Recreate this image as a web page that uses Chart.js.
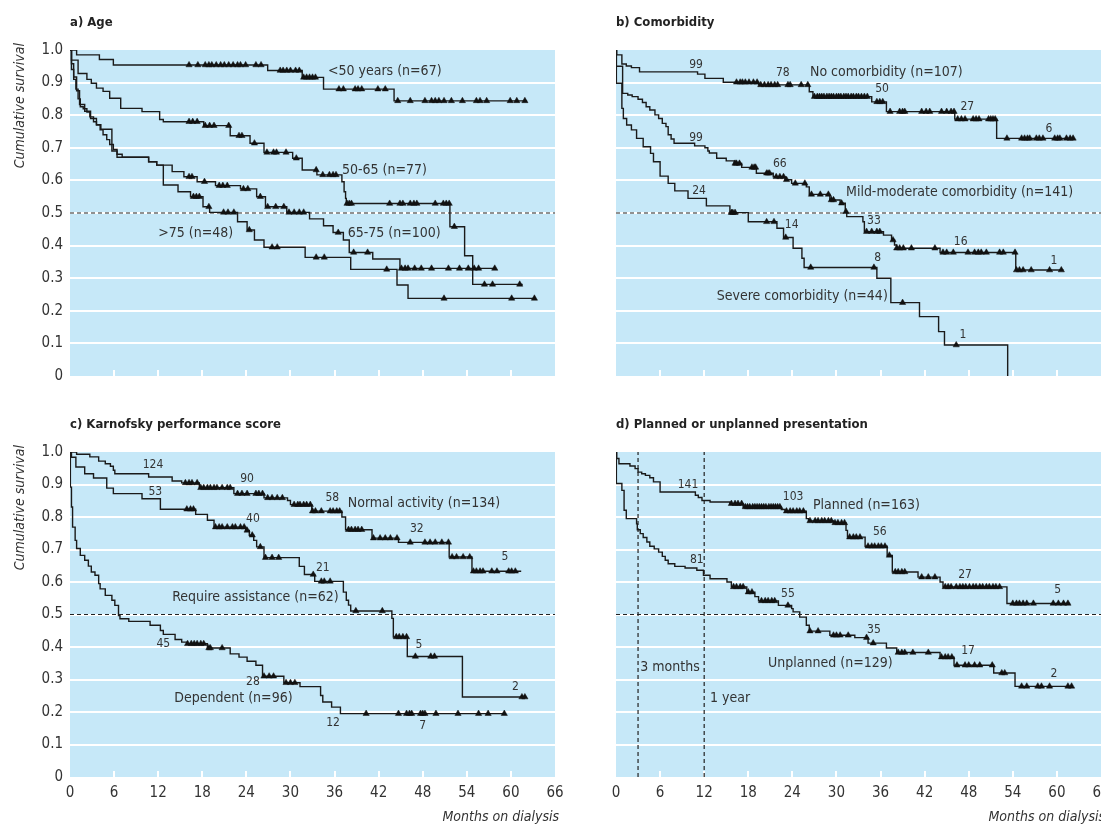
<!DOCTYPE html>
<html>
<head>
<meta charset="utf-8">
<script src="https://cdn.jsdelivr.net/npm/chart.js@4.4.1/dist/chart.umd.min.js"></script>
<style>
  html, body { margin: 0; padding: 0; background: #fff; width: 1101px; height: 825px; overflow: hidden; }
  .panel { position: absolute; }
  canvas { display: block; }
</style>
</head>
<body>
<div class="panel" style="left:0;top:0"><canvas id="pa" width="565" height="400"></canvas></div>
<div class="panel" style="left:546px;top:0"><canvas id="pb" width="565" height="400"></canvas></div>
<div class="panel" style="left:0;top:402px"><canvas id="pc" width="565" height="423"></canvas></div>
<div class="panel" style="left:546px;top:402px"><canvas id="pd" width="565" height="423"></canvas></div>
<script>
// Axis ticks
const monthTicks = [0, 6, 12, 18, 24, 30, 36, 42, 48, 54, 60, 66];
const survivalTicks = [0, 0.1, 0.2, 0.3, 0.4, 0.5, 0.6, 0.7, 0.8, 0.9, 1.0];
const medianLine = 0.5;
const presentationMarkers = [3, 12];

// a) Age — step curves (months, cumulative survival) and censored times
const ageLt50Months = [0, 0.9, 4.0, 5.9, 26.9, 31.6, 34.5, 44.1, 62.2];
const ageLt50Surv = [1, 0.985, 0.971, 0.954, 0.937, 0.916, 0.880, 0.844, 0.844];
const ageLt50Censored = [16.2, 17.4, 18.4, 18.9, 19.3, 19.9, 20.5, 21.0, 21.6, 22.2, 22.8, 23.2, 23.9, 25.3, 26.0, 28.6, 29.0, 29.5, 30.0, 30.7, 31.2, 31.8, 32.2, 32.6, 33.0, 33.4, 36.6, 37.2, 38.8, 39.2, 39.7, 41.9, 42.9, 44.6, 46.3, 48.3, 49.2, 49.7, 50.2, 50.9, 51.9, 53.4, 55.3, 55.8, 56.7, 59.9, 60.8, 61.9];

const age5065Months = [0, 0.2, 1.1, 2.3, 2.9, 3.6, 4.5, 5.4, 6.9, 9.8, 12.2, 12.7, 18.2, 21.8, 24.5, 26.4, 30.3, 31.6, 33.6, 37.0, 37.3, 37.5, 37.6, 51.7, 53.7, 54.8, 61.6];
const age5065Surv = [1, 0.969, 0.928, 0.910, 0.898, 0.883, 0.873, 0.852, 0.821, 0.811, 0.787, 0.780, 0.768, 0.737, 0.714, 0.686, 0.668, 0.632, 0.617, 0.596, 0.565, 0.545, 0.529, 0.458, 0.369, 0.281, 0.281];
const age5065Censored = [16.2, 16.7, 17.3, 18.4, 19.0, 19.6, 21.6, 23.0, 23.4, 25.1, 26.8, 27.7, 28.1, 29.4, 30.8, 33.5, 34.4, 35.3, 35.8, 36.2, 37.7, 38.0, 38.3, 43.5, 44.9, 45.3, 46.3, 46.8, 47.2, 49.7, 50.8, 51.2, 51.6, 52.3, 56.4, 57.5, 61.2];

const age6575Months = [0, 0.2, 0.5, 0.8, 1.1, 1.4, 1.8, 2.3, 2.7, 3.2, 3.6, 4.1, 4.5, 5.0, 5.4, 5.9, 6.4, 7.1, 10.7, 11.8, 13.9, 15.5, 17.3, 19.8, 23.2, 25.4, 26.6, 29.5, 32.6, 34.5, 35.8, 37.2, 38.0, 41.2, 44.9, 58.0];
const age6575Surv = [1, 0.94, 0.91, 0.88, 0.85, 0.826, 0.82, 0.81, 0.795, 0.78, 0.77, 0.755, 0.74, 0.725, 0.71, 0.695, 0.68, 0.671, 0.657, 0.647, 0.627, 0.611, 0.596, 0.584, 0.574, 0.55, 0.519, 0.502, 0.482, 0.461, 0.44, 0.417, 0.379, 0.359, 0.33, 0.33];
const age6575Censored = [16.2, 16.6, 18.3, 20.3, 20.8, 21.4, 23.6, 24.2, 25.9, 26.9, 28.0, 29.1, 29.8, 30.5, 31.2, 31.8, 36.5, 38.6, 40.5, 45.1, 45.6, 46.0, 46.9, 47.8, 49.2, 51.5, 53.0, 54.2, 55.0, 55.6, 57.8];

const ageGt75Months = [0, 0.2, 0.5, 0.9, 1.3, 2.0, 2.8, 3.6, 4.2, 5.7, 6.4, 10.7, 11.8, 12.7, 14.7, 16.4, 18.1, 19.0, 22.8, 24.1, 25.1, 26.4, 32.0, 38.2, 44.5, 46.0, 63.4];
const ageGt75Surv = [1, 0.958, 0.917, 0.875, 0.833, 0.812, 0.79, 0.771, 0.757, 0.69, 0.671, 0.657, 0.647, 0.586, 0.565, 0.55, 0.519, 0.502, 0.473, 0.448, 0.417, 0.395, 0.364, 0.327, 0.279, 0.238, 0.238];
const ageGt75Censored = [16.8, 17.2, 17.6, 18.9, 20.9, 21.5, 22.3, 24.4, 27.5, 28.2, 33.5, 34.6, 43.1, 50.9, 60.1, 63.2];

// b) Comorbidity
const noComorbMonths = [0, 0.1, 0.8, 1.4, 2.1, 3.2, 11.1, 12.1, 14.6, 19.4, 26.3, 26.8, 34.8, 36.8, 46.1, 51.8, 62.2];
const noComorbSurv = [1, 0.985, 0.957, 0.951, 0.946, 0.933, 0.926, 0.913, 0.901, 0.893, 0.872, 0.857, 0.841, 0.811, 0.788, 0.729, 0.729];
const noComorbCensored = [16.4, 16.9, 17.2, 17.6, 18.1, 18.7, 19.2, 19.7, 20.2, 20.7, 21.1, 21.6, 22.0, 23.4, 23.7, 25.2, 26.1, 27.0, 27.4, 27.7, 28.0, 28.3, 28.7, 29.0, 29.3, 29.6, 30.0, 30.3, 30.6, 31.0, 31.3, 31.6, 32.0, 32.3, 32.7, 33.0, 33.4, 33.8, 34.2, 35.5, 35.9, 36.3, 37.3, 38.6, 39.0, 39.3, 41.6, 42.2, 42.7, 44.3, 45.0, 45.6, 46.0, 46.5, 47.0, 47.5, 48.6, 49.0, 49.4, 50.7, 51.0, 51.3, 51.6, 53.2, 55.2, 55.6, 56.0, 56.3, 57.2, 57.6, 58.1, 59.7, 60.1, 60.4, 61.3, 61.8, 62.2];

const mildComorbMonths = [0, 0.05, 0.9, 1.6, 2.2, 3.0, 3.6, 4.1, 4.6, 5.3, 5.8, 6.3, 6.8, 7.1, 7.5, 7.9, 10.7, 12.1, 12.5, 12.7, 13.7, 15.0, 16.1, 17.1, 19.1, 21.4, 23.0, 23.9, 25.9, 26.3, 29.1, 30.5, 31.2, 31.4, 33.6, 33.8, 36.4, 37.5, 37.9, 38.2, 44.1, 54.4, 60.9];
const mildComorbSurv = [1, 0.95, 0.867, 0.862, 0.857, 0.849, 0.839, 0.826, 0.816, 0.801, 0.79, 0.775, 0.765, 0.74, 0.727, 0.714, 0.706, 0.70, 0.69, 0.684, 0.668, 0.660, 0.652, 0.640, 0.622, 0.611, 0.602, 0.591, 0.580, 0.557, 0.540, 0.530, 0.504, 0.489, 0.473, 0.443, 0.432, 0.417, 0.402, 0.392, 0.379, 0.325, 0.325];
const mildComorbCensored = [16.2, 16.4, 16.8, 18.5, 18.8, 19.0, 20.5, 20.7, 20.9, 21.8, 22.3, 22.8, 23.2, 24.4, 25.7, 26.6, 27.8, 28.9, 29.3, 29.6, 30.7, 31.3, 34.1, 34.8, 35.5, 35.9, 37.7, 38.2, 38.6, 39.1, 40.2, 43.4, 44.5, 45.0, 45.9, 47.9, 48.8, 49.3, 49.7, 50.4, 52.2, 52.7, 54.3, 54.5, 54.9, 55.4, 56.5, 59.0, 60.6];

const severeComorbMonths = [0, 0.05, 0.8, 1.0, 1.45, 2.1, 2.8, 3.7, 4.7, 5.1, 6.0, 7.1, 8.0, 9.8, 12.3, 15.5, 18.0, 21.9, 22.8, 24.1, 25.3, 25.6, 35.5, 37.4, 41.3, 43.9, 44.7, 53.3];
const severeComorbSurv = [1, 0.898, 0.821, 0.790, 0.770, 0.755, 0.729, 0.703, 0.683, 0.657, 0.613, 0.591, 0.568, 0.545, 0.522, 0.501, 0.473, 0.453, 0.425, 0.392, 0.361, 0.333, 0.300, 0.225, 0.182, 0.136, 0.095, 0];
const severeComorbCensored = [15.7, 15.9, 16.2, 20.5, 21.5, 23.1, 26.5, 35.1, 39.0, 46.3];

// c) Karnofsky performance score
const normalActMonths = [0, 0.9, 2.7, 3.9, 4.8, 5.5, 5.9, 6.1, 10.7, 13.9, 15.2, 17.6, 22.3, 26.4, 29.6, 30.0, 32.9, 37.0, 37.5, 41.1, 44.7, 51.6, 54.7, 61.4];
const normalActSurv = [1, 0.993, 0.985, 0.972, 0.964, 0.956, 0.944, 0.933, 0.923, 0.911, 0.905, 0.890, 0.872, 0.859, 0.851, 0.838, 0.818, 0.800, 0.761, 0.735, 0.722, 0.677, 0.633, 0.633];
const normalActCensored = [15.7, 16.2, 16.6, 17.3, 17.8, 18.2, 18.7, 19.1, 19.6, 20.0, 20.7, 21.4, 21.8, 22.8, 23.4, 24.1, 25.3, 25.7, 26.2, 26.9, 27.5, 28.2, 28.9, 30.5, 31.0, 31.3, 31.8, 32.2, 32.7, 33.0, 33.4, 34.2, 35.4, 35.8, 36.3, 36.7, 37.9, 38.3, 38.8, 39.2, 39.7, 41.3, 42.2, 42.9, 43.6, 44.5, 46.3, 48.3, 49.0, 49.7, 50.6, 51.5, 52.0, 52.6, 53.5, 54.4, 54.9, 55.3, 55.8, 56.2, 57.4, 58.1, 59.7, 60.1, 60.6];

const reqAssistMonths = [0, 0.2, 0.8, 2.0, 3.2, 5.0, 5.9, 9.8, 12.3, 17.1, 18.7, 19.6, 23.9, 24.4, 25.0, 25.4, 26.4, 31.2, 31.9, 33.3, 37.2, 37.6, 37.9, 38.2, 43.8, 44.0, 45.9, 53.4, 62.1];
const reqAssistSurv = [1, 0.984, 0.954, 0.933, 0.920, 0.889, 0.872, 0.856, 0.824, 0.808, 0.790, 0.769, 0.759, 0.744, 0.728, 0.708, 0.675, 0.648, 0.623, 0.602, 0.569, 0.544, 0.529, 0.511, 0.488, 0.431, 0.371, 0.246, 0.246];
const reqAssistCensored = [15.9, 16.4, 16.8, 19.8, 20.3, 20.7, 21.4, 22.1, 22.5, 23.2, 23.7, 24.1, 24.8, 25.9, 26.6, 27.5, 28.4, 33.1, 34.2, 34.6, 35.4, 38.9, 42.5, 44.4, 44.8, 45.3, 45.8, 47.0, 49.1, 49.6, 61.5, 61.9];

const dependentMonths = [0, 0.05, 0.2, 0.35, 0.7, 0.9, 1.4, 2.0, 2.5, 2.9, 3.4, 3.9, 4.1, 4.8, 5.7, 6.1, 6.6, 6.8, 8.0, 10.9, 12.3, 12.7, 14.3, 15.2, 15.9, 18.7, 21.8, 23.0, 24.1, 25.3, 26.2, 29.1, 31.3, 34.1, 34.4, 35.6, 36.8, 59.1];
const dependentSurv = [1, 0.892, 0.831, 0.769, 0.728, 0.703, 0.682, 0.667, 0.649, 0.631, 0.621, 0.595, 0.579, 0.559, 0.544, 0.528, 0.497, 0.487, 0.479, 0.467, 0.451, 0.439, 0.423, 0.415, 0.410, 0.397, 0.379, 0.369, 0.356, 0.344, 0.310, 0.290, 0.278, 0.251, 0.231, 0.215, 0.195, 0.195];
const dependentCensored = [16.0, 16.5, 16.9, 17.3, 17.8, 18.2, 18.9, 19.1, 20.7, 26.4, 27.1, 27.7, 29.4, 30.0, 30.6, 40.3, 44.7, 45.8, 46.2, 46.5, 47.7, 48.0, 48.3, 49.8, 52.8, 55.6, 56.9, 59.1];

// d) Planned or unplanned presentation
const plannedMonths = [0, 0.1, 0.4, 1.9, 2.6, 3.0, 3.5, 4.0, 4.6, 5.1, 6.0, 10.8, 11.2, 11.7, 12.8, 15.5, 17.3, 22.5, 23.0, 25.9, 26.2, 29.6, 31.3, 31.5, 33.9, 36.9, 37.6, 41.1, 44.1, 44.5, 53.2, 61.8];
const plannedSurv = [1, 0.980, 0.964, 0.957, 0.949, 0.938, 0.933, 0.928, 0.921, 0.908, 0.877, 0.867, 0.860, 0.851, 0.846, 0.841, 0.831, 0.823, 0.818, 0.795, 0.788, 0.782, 0.759, 0.738, 0.710, 0.682, 0.631, 0.615, 0.600, 0.585, 0.534, 0.534];
const plannedCensored = [15.7, 16.2, 16.6, 17.1, 17.6, 17.9, 18.2, 18.6, 18.9, 19.2, 19.5, 19.8, 20.1, 20.4, 20.8, 21.1, 21.4, 21.7, 22.0, 22.3, 23.2, 23.7, 24.1, 24.6, 25.0, 25.5, 26.4, 27.1, 27.5, 28.0, 28.4, 28.9, 29.3, 29.8, 30.2, 30.7, 31.1, 31.8, 32.3, 32.7, 33.2, 34.3, 34.8, 35.2, 35.7, 36.1, 36.6, 37.2, 38.0, 38.4, 38.9, 39.3, 41.6, 42.5, 43.4, 44.8, 45.2, 45.6, 46.3, 46.8, 47.2, 47.6, 48.1, 48.6, 49.0, 49.5, 49.9, 50.4, 50.8, 51.3, 51.7, 52.2, 54.0, 54.5, 54.9, 55.4, 55.9, 56.8, 59.5, 60.2, 60.9, 61.5];

const unplannedMonths = [0, 0.05, 0.8, 1.1, 1.4, 2.8, 2.9, 3.3, 3.7, 4.2, 4.6, 5.2, 5.8, 6.3, 6.7, 7.1, 8.0, 9.4, 11.0, 11.9, 12.8, 15.1, 15.7, 17.8, 18.9, 19.4, 22.1, 23.9, 24.1, 25.0, 25.9, 26.3, 29.1, 32.5, 34.3, 36.8, 38.2, 44.1, 46.0, 51.4, 54.3, 62.1];
const unplannedSurv = [1, 0.903, 0.882, 0.821, 0.795, 0.779, 0.761, 0.749, 0.737, 0.723, 0.710, 0.702, 0.692, 0.679, 0.667, 0.656, 0.648, 0.643, 0.636, 0.621, 0.610, 0.600, 0.585, 0.569, 0.555, 0.542, 0.528, 0.518, 0.508, 0.492, 0.467, 0.449, 0.436, 0.429, 0.412, 0.397, 0.383, 0.369, 0.344, 0.320, 0.279, 0.279];
const unplannedCensored = [16.0, 16.4, 16.9, 17.3, 18.0, 18.5, 19.8, 20.3, 20.7, 21.2, 21.6, 23.4, 26.4, 27.5, 29.6, 30.0, 30.5, 31.6, 34.1, 35.0, 38.4, 38.9, 39.3, 40.4, 42.5, 44.3, 44.8, 45.2, 45.7, 46.4, 47.5, 48.0, 48.8, 49.5, 51.2, 52.5, 52.9, 55.2, 55.9, 57.4, 57.9, 59.0, 61.5, 62.0];

// Curve labels ('label') and numbers at risk ('n'), placed at [months, survival]
const ageNotes = [
  ['<50 years (n=67)', 35.1, 0.933, 'label'],
  ['50-65 (n=77)', 37.0, 0.632, 'label'],
  ['65-75 (n=100)', 37.8, 0.439, 'label'],
  ['>75 (n=48)', 12.0, 0.439, 'label']
];
const comorbNotes = [
  ['No comorbidity (n=107)', 26.4, 0.932, 'label'],
  ['Mild-moderate comorbidity (n=141)', 31.3, 0.563, 'label'],
  ['Severe comorbidity (n=44)', 13.7, 0.245, 'label'],
  ['99', 10.9, 0.954, 'n'], ['78', 22.7, 0.929, 'n'], ['50', 36.2, 0.880, 'n'], ['27', 47.8, 0.825, 'n'], ['6', 58.9, 0.758, 'n'],
  ['99', 10.9, 0.730, 'n'], ['66', 22.3, 0.650, 'n'], ['33', 35.1, 0.475, 'n'], ['16', 46.9, 0.411, 'n'], ['1', 59.6, 0.353, 'n'],
  ['24', 11.3, 0.567, 'n'], ['14', 23.9, 0.463, 'n'], ['8', 35.6, 0.362, 'n'], ['1', 47.2, 0.126, 'n']
];
const karnofskyNotes = [
  ['Normal activity (n=134)', 37.8, 0.842, 'label'],
  ['Require assistance (n=62)', 13.9, 0.553, 'label'],
  ['Dependent (n=96)', 14.2, 0.242, 'label'],
  ['124', 11.3, 0.959, 'n'], ['90', 24.1, 0.916, 'n'], ['58', 35.7, 0.858, 'n'], ['32', 47.2, 0.762, 'n'], ['5', 59.2, 0.676, 'n'],
  ['53', 11.6, 0.876, 'n'], ['40', 24.9, 0.793, 'n'], ['21', 34.4, 0.645, 'n'], ['5', 47.5, 0.408, 'n'], ['2', 60.6, 0.276, 'n'],
  ['45', 12.7, 0.411, 'n'], ['28', 24.9, 0.294, 'n'], ['12', 35.8, 0.168, 'n'], ['7', 48.0, 0.156, 'n']
];
const presentationNotes = [
  ['Planned (n=163)', 26.8, 0.836, 'label'],
  ['Unplanned (n=129)', 20.7, 0.350, 'label'],
  ['3 months', 3.3, 0.337, 'label'],
  ['1 year', 12.8, 0.242, 'label'],
  ['141', 9.8, 0.898, 'n'], ['103', 24.1, 0.861, 'n'], ['56', 35.9, 0.753, 'n'], ['27', 47.5, 0.621, 'n'], ['5', 60.1, 0.575, 'n'],
  ['81', 11.0, 0.667, 'n'], ['55', 23.4, 0.562, 'n'], ['35', 35.1, 0.454, 'n'], ['17', 47.9, 0.387, 'n'], ['2', 59.6, 0.316, 'n']
];

// ---------------------------------------------------------------------------
const FONT = "'Liberation Sans Narrow', 'DejaVu Sans Condensed', 'Liberation Sans', sans-serif";
const INK = '#1a1a1a';
const TEXT = '#333';
const PLOT_BG = '#c6e8f8';

Chart.defaults.font.family = FONT;
Chart.defaults.color = TEXT;
Chart.defaults.animation = false;

function survivalAt(months, surv, t) {
  let s = surv[0];
  for (let i = 0; i < months.length; i++) {
    if (months[i] <= t) s = surv[i]; else break;
  }
  return s;
}

function curveSets(months, surv, censored) {
  return [
    {
      type: 'line',
      data: months.map((m, i) => ({ x: m, y: surv[i] })),
      stepped: 'before',
      borderColor: INK,
      borderWidth: 1.4,
      pointRadius: 0,
      fill: false,
      order: 2
    },
    {
      type: 'scatter',
      data: censored.map(t => ({ x: t, y: survivalAt(months, surv, t) })),
      pointStyle: 'triangle',
      pointRadius: 3.6,
      pointBackgroundColor: '#111',
      pointBorderColor: '#111',
      pointBorderWidth: 0.5,
      order: 1
    }
  ];
}

function dashed(points) {
  return {
    type: 'line',
    data: points,
    borderColor: '#222',
    borderWidth: 1.2,
    borderDash: [4, 3],
    pointRadius: 0,
    fill: false,
    order: 3
  };
}

function decor(panel) {
  return {
    id: 'decor',
    beforeDraw(chart) {
      const a = chart.chartArea, ctx = chart.ctx;
      ctx.save();
      ctx.fillStyle = PLOT_BG;
      ctx.fillRect(a.left, a.top, a.right - a.left, a.bottom - a.top);
      ctx.restore();
    },
    beforeDatasetsDraw(chart) {
      const a = chart.chartArea, ctx = chart.ctx, xs = chart.scales.x;
      ctx.save();
      ctx.strokeStyle = '#fff';
      ctx.lineWidth = 2;
      monthTicks.forEach(v => {
        if (v === 0 || v === 66) return;
        const x = Math.round(xs.getPixelForValue(v));
        ctx.beginPath();
        ctx.moveTo(x, a.bottom);
        ctx.lineTo(x, a.bottom - 6);
        ctx.stroke();
      });
      ctx.restore();
    },
    afterDatasetsDraw(chart) {
      const ctx = chart.ctx, xs = chart.scales.x, ys = chart.scales.y;
      ctx.save();
      ctx.fillStyle = TEXT;
      ctx.textBaseline = 'middle';
      panel.notes.forEach(([text, m, s, kind]) => {
        const x = xs.getPixelForValue(m), y = ys.getPixelForValue(s);
        if (kind === 'label') {
          ctx.font = '14px ' + FONT;
          ctx.textAlign = 'left';
        } else {
          ctx.font = '12px ' + FONT;
          ctx.textAlign = 'center';
        }
        ctx.fillText(text, x, y);
      });
      ctx.restore();
    },
    afterDraw(chart) {
      const a = chart.chartArea, ctx = chart.ctx;
      ctx.save();
      ctx.fillStyle = '#222';
      ctx.font = 'bold 13px ' + FONT;
      ctx.textAlign = 'left';
      ctx.textBaseline = 'middle';
      ctx.fillText(panel.title, a.left, a.top - 27);
      ctx.fillStyle = TEXT;
      if (panel.yTitle) {
        ctx.save();
        ctx.translate(20, a.top - 7);
        ctx.rotate(-Math.PI / 2);
        ctx.font = 'italic 14px ' + FONT;
        ctx.textAlign = 'right';
        ctx.textBaseline = 'middle';
        ctx.fillText('Cumulative survival', 0, 0);
        ctx.restore();
      }
      if (panel.xTitle) {
        ctx.font = 'italic 14px ' + FONT;
        ctx.textAlign = 'right';
        ctx.textBaseline = 'middle';
        ctx.fillText('Months on dialysis', a.right + 4, a.bottom + 40);
      }
      ctx.restore();
    }
  };
}

function makePanel(panel) {
  const datasets = [];
  panel.curves.forEach(c => datasets.push(...curveSets(c[0], c[1], c[2])));
  datasets.push(dashed([{ x: monthTicks[0], y: medianLine }, { x: monthTicks[monthTicks.length - 1], y: medianLine }]));
  (panel.vlines || []).forEach(v => datasets.push(dashed([{ x: v, y: survivalTicks[0] }, { x: v, y: survivalTicks[survivalTicks.length - 1] }])));

  new Chart(document.getElementById(panel.id), {
    type: 'line',
    data: { datasets },
    plugins: [decor(panel)],
    options: {
      responsive: false,
      animation: false,
      events: [],
      layout: { padding: { top: 50, right: 10, left: 0, bottom: 0 } },
      plugins: { legend: { display: false }, tooltip: { enabled: false }, title: { display: false } },
      scales: {
        x: {
          type: 'linear',
          min: 0, max: 66,
          afterBuildTicks: s => { s.ticks = monthTicks.map(v => ({ value: v })); },
          afterFit: s => { s.height = panel.xAxisHeight; s.paddingLeft = 0; s.paddingRight = 0; },
          grid: { display: false, drawTicks: false },
          border: { display: false },
          ticks: { display: panel.xLabels, padding: 7, autoSkip: false, maxRotation: 0, font: { size: 15 }, color: TEXT }
        },
        y: {
          type: 'linear',
          min: 0, max: 1,
          afterBuildTicks: s => { s.ticks = survivalTicks.map(v => ({ value: v })); },
          afterFit: s => { s.width = 70; s.paddingTop = 0; s.paddingBottom = 0; },
          grid: {
            drawTicks: false,
            lineWidth: 2,
            color: c => (c.tick && (c.tick.value === 0 || c.tick.value === 1)) ? 'rgba(0,0,0,0)' : '#ffffff'
          },
          border: { display: false },
          ticks: {
            display: panel.yLabels,
            padding: 7,
            font: { size: 15 },
            color: TEXT,
            callback: v => v === 0 ? '0' : v.toFixed(1)
          }
        }
      }
    }
  });
}

makePanel({
  id: 'pa', title: 'a) Age', yTitle: true, yLabels: true, xLabels: false, xTitle: false, xAxisHeight: 24,
  curves: [
    [ageLt50Months, ageLt50Surv, ageLt50Censored],
    [age5065Months, age5065Surv, age5065Censored],
    [age6575Months, age6575Surv, age6575Censored],
    [ageGt75Months, ageGt75Surv, ageGt75Censored]
  ],
  notes: ageNotes
});
makePanel({
  id: 'pb', title: 'b) Comorbidity', yTitle: false, yLabels: false, xLabels: false, xTitle: false, xAxisHeight: 24,
  curves: [
    [noComorbMonths, noComorbSurv, noComorbCensored],
    [mildComorbMonths, mildComorbSurv, mildComorbCensored],
    [severeComorbMonths, severeComorbSurv, severeComorbCensored]
  ],
  notes: comorbNotes
});
makePanel({
  id: 'pc', title: 'c) Karnofsky performance score', yTitle: true, yLabels: true, xLabels: true, xTitle: true, xAxisHeight: 48,
  curves: [
    [normalActMonths, normalActSurv, normalActCensored],
    [reqAssistMonths, reqAssistSurv, reqAssistCensored],
    [dependentMonths, dependentSurv, dependentCensored]
  ],
  notes: karnofskyNotes
});
makePanel({
  id: 'pd', title: 'd) Planned or unplanned presentation', yTitle: false, yLabels: false, xLabels: true, xTitle: true, xAxisHeight: 48,
  curves: [
    [plannedMonths, plannedSurv, plannedCensored],
    [unplannedMonths, unplannedSurv, unplannedCensored]
  ],
  vlines: presentationMarkers,
  notes: presentationNotes
});
</script>
</body>
</html>
